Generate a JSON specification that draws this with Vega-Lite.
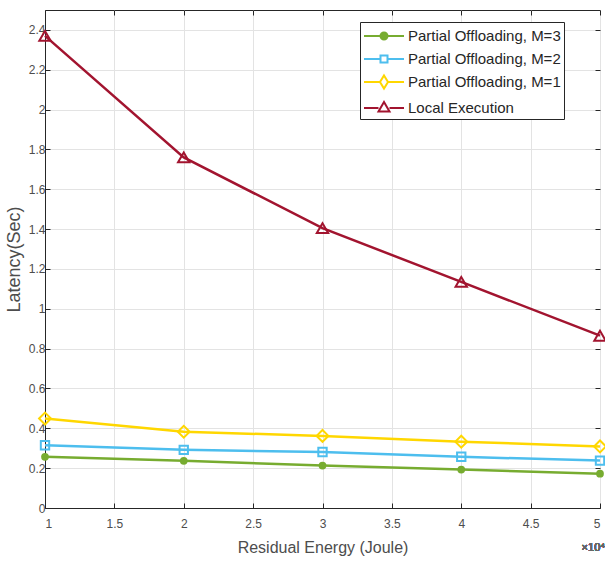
{
  "$schema": "https://vega.github.io/schema/vega-lite/v6.json",
  "width": 555,
  "height": 498,
  "autosize": "none",
  "padding": {"left": 45, "top": 10, "right": 5, "bottom": 55},
  "background": "white",
  "config": {
    "font": "Liberation Sans",
    "view": {"stroke": "#262626", "strokeWidth": 1},
    "axis": {
      "labelFont": "Liberation Sans",
      "titleFont": "Liberation Sans",
      "labelFontSize": 12,
      "labelColor": "#4d4d4d",
      "titleColor": "#4d4d4d",
      "titleFontWeight": "normal",
      "gridColor": "#e3e3e3",
      "domainColor": "#262626",
      "tickColor": "#262626",
      "tickSize": -5,
      "format": "~g"
    }
  },
  "resolve": {"axis": {"x": "independent", "y": "independent"}},
  "data": {
    "values": [
      {"energy": 1, "latency": 0.257, "series": "Partial Offloading, M=3"},
      {"energy": 2, "latency": 0.237, "series": "Partial Offloading, M=3"},
      {"energy": 3, "latency": 0.213, "series": "Partial Offloading, M=3"},
      {"energy": 4, "latency": 0.193, "series": "Partial Offloading, M=3"},
      {"energy": 5, "latency": 0.172, "series": "Partial Offloading, M=3"},
      {"energy": 1, "latency": 0.315, "series": "Partial Offloading, M=2"},
      {"energy": 2, "latency": 0.292, "series": "Partial Offloading, M=2"},
      {"energy": 3, "latency": 0.281, "series": "Partial Offloading, M=2"},
      {"energy": 4, "latency": 0.257, "series": "Partial Offloading, M=2"},
      {"energy": 5, "latency": 0.238, "series": "Partial Offloading, M=2"},
      {"energy": 1, "latency": 0.449, "series": "Partial Offloading, M=1"},
      {"energy": 2, "latency": 0.383, "series": "Partial Offloading, M=1"},
      {"energy": 3, "latency": 0.362, "series": "Partial Offloading, M=1"},
      {"energy": 4, "latency": 0.333, "series": "Partial Offloading, M=1"},
      {"energy": 5, "latency": 0.309, "series": "Partial Offloading, M=1"},
      {"energy": 1, "latency": 2.37, "series": "Local Execution"},
      {"energy": 2, "latency": 1.76, "series": "Local Execution"},
      {"energy": 3, "latency": 1.405, "series": "Local Execution"},
      {"energy": 4, "latency": 1.135, "series": "Local Execution"},
      {"energy": 5, "latency": 0.865, "series": "Local Execution"}
    ]
  },
  "encoding": {
    "x": {
      "field": "energy",
      "type": "quantitative",
      "scale": {"domain": [1, 5], "nice": false},
      "axis": null
    },
    "y": {
      "field": "latency",
      "type": "quantitative",
      "scale": {"domain": [0, 2.5], "nice": false},
      "axis": null
    }
  },
  "layer": [
    {
      "mark": {"type": "line", "strokeWidth": 2.5},
      "encoding": {
        "x": {
          "field": "energy",
          "type": "quantitative",
          "axis": {
            "values": [1, 1.5, 2, 2.5, 3, 3.5, 4, 4.5, 5],
            "title": "Residual Energy (Joule)",
            "titleFontSize": 16,
            "titlePadding": 10,
            "labelPadding": 15
          }
        },
        "y": {
          "field": "latency",
          "type": "quantitative",
          "axis": {
            "values": [0, 0.2, 0.4, 0.6, 0.8, 1, 1.2, 1.4, 1.6, 1.8, 2, 2.2, 2.4],
            "title": "Latency(Sec)",
            "titleFontSize": 18,
            "titlePadding": 5,
            "labelPadding": 5
          }
        },
        "color": {
          "field": "series",
          "type": "nominal",
          "sort": ["Partial Offloading, M=3", "Partial Offloading, M=2", "Partial Offloading, M=1", "Local Execution"],
          "scale": {
            "domain": ["Partial Offloading, M=3", "Partial Offloading, M=2", "Partial Offloading, M=1", "Local Execution"],
            "range": ["#77AC30", "#4DBEEE", "#FFD700", "#A2142F"]
          },
          "legend": {
            "title": null,
            "orient": "none",
            "legendX": 315,
            "legendY": 12,
            "labelFontSize": 15,
            "labelColor": "#262626",
            "labelFont": "Liberation Sans",
            "labelLimit": 400,
            "labelOffset": 23,
            "strokeColor": "#262626",
            "fillColor": "white",
            "padding": 3,
            "rowPadding": 4,
            "symbolSize": 400,
            "symbolStrokeWidth": 2,
            "symbolOpacity": 1,
            "encode": {
              "symbols": {
                "update": {
                  "shape": {"signal": "datum.value === 'Local Execution' ? 'M-1,0L0.45,0M1.55,0L3,0M1,-0.6L1.55,0.35L0.45,0.35Z' : datum.value === 'Partial Offloading, M=1' ? 'M-1,0L0.6,0M1.4,0L3,0M1,-0.65L1.4,0L1,0.65L0.6,0Z' : datum.value === 'Partial Offloading, M=2' ? 'M-1,0L0.65,0M1.35,0L3,0M0.65,-0.35L1.35,-0.35L1.35,0.35L0.65,0.35Z' : 'M-1,0L3,0M1.35,0A0.35,0.35,0,1,1,0.65,0A0.35,0.35,0,1,1,1.35,0Z'"},
                  "fill": {"signal": "datum.value === 'Partial Offloading, M=3' ? '#77AC30' : 'transparent'"},
                  "opacity": {"value": 1}
                }
              }
            }
          }
        }
      }
    },
    {
      "transform": [{"filter": "datum.series === 'Partial Offloading, M=3'"}],
      "mark": {"type": "point", "shape": "circle", "size": 60, "filled": true, "opacity": 1, "color": "#77AC30"},
      "encoding": {
        "x": {
          "field": "energy",
          "type": "quantitative",
          "axis": {
            "orient": "top",
            "values": [1, 1.5, 2, 2.5, 3, 3.5, 4, 4.5, 5],
            "labels": false,
            "title": null,
            "grid": false,
            "domain": false
          }
        },
        "y": {
          "field": "latency",
          "type": "quantitative",
          "axis": {
            "orient": "right",
            "values": [0, 0.2, 0.4, 0.6, 0.8, 1, 1.2, 1.4, 1.6, 1.8, 2, 2.2, 2.4],
            "labels": false,
            "title": null,
            "grid": false,
            "domain": false
          }
        }
      }
    },
    {
      "transform": [{"filter": "datum.series === 'Partial Offloading, M=2'"}],
      "mark": {"type": "point", "shape": "square", "size": 70, "strokeWidth": 2, "filled": false, "opacity": 1, "color": "#4DBEEE"},
      "encoding": {}
    },
    {
      "transform": [{"filter": "datum.series === 'Partial Offloading, M=1'"}],
      "mark": {"type": "point", "shape": "diamond", "size": 140, "strokeWidth": 2, "filled": false, "opacity": 1, "color": "#FFD700"},
      "encoding": {}
    },
    {
      "transform": [{"filter": "datum.series === 'Local Execution'"}],
      "mark": {"type": "point", "shape": "triangle-up", "size": 130, "strokeWidth": 2, "filled": false, "opacity": 1, "color": "#A2142F"},
      "encoding": {}
    },
    {
      "mark": {"type": "text", "align": "right", "dy": 40, "dx": 5, "fontSize": 11, "fontWeight": "normal", "font": "Liberation Sans"},
      "encoding": {
        "x": {"datum": 5},
        "y": {"datum": 0},
        "text": {"value": "×10⁴"},
        "color": {"value": "#666666"}
      }
    }
  ]
}
